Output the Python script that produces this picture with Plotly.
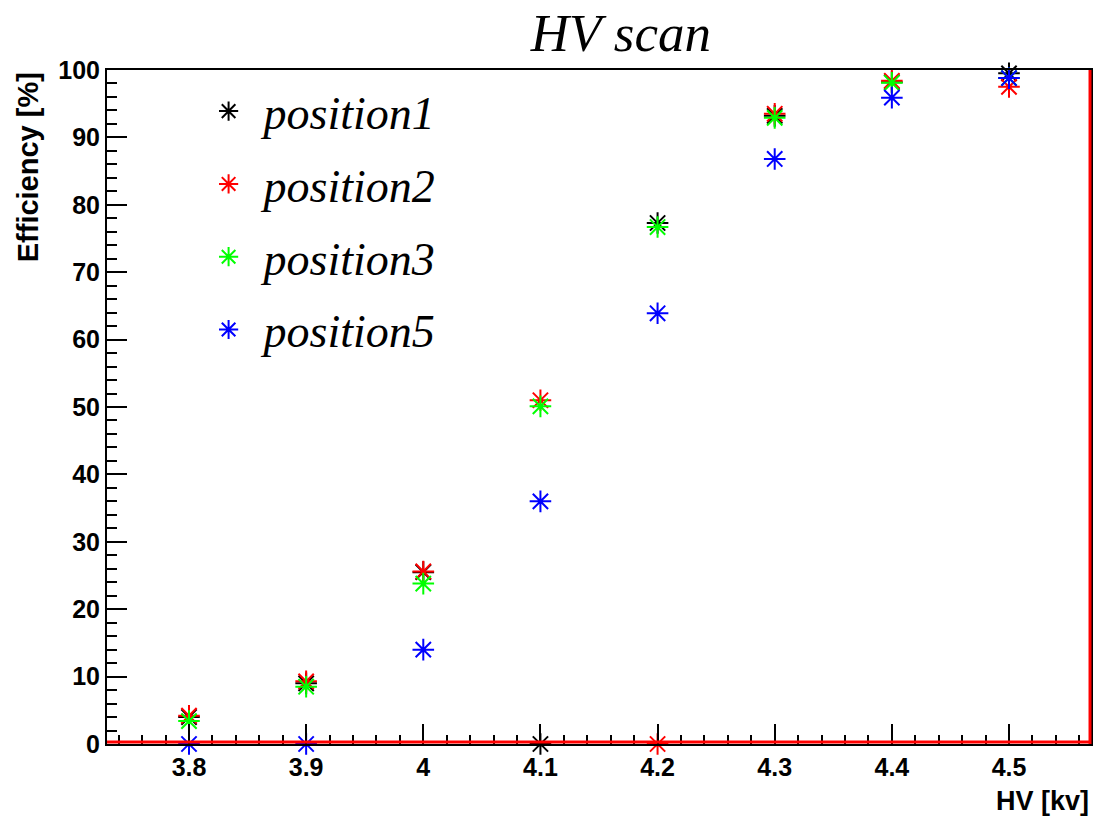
import plotly.graph_objects as go

hv = [3.8, 3.9, 4.0, 4.1, 4.2, 4.3, 4.4, 4.5]
pos1 = [4.0, 9.0, 25.5, 0.0, 77.3, 93.2, 98.2, 99.5]
pos2 = [4.2, 9.3, 25.6, 51.0, 0.0, 93.5, 98.4, 97.5]
pos3 = [3.4, 8.5, 23.8, 50.1, 76.7, 92.9, 98.1, 98.8]
pos5 = [0.0, 0.0, 14.0, 36.0, 63.9, 86.8, 95.9, 98.8]

series = [
    ("position1", pos1, "#000000"),
    ("position2", pos2, "#ff0000"),
    ("position3", pos3, "#00ff00"),
    ("position5", pos5, "#0000ff"),
]

x_ticks = [3.8, 3.9, 4.0, 4.1, 4.2, 4.3, 4.4, 4.5]
x_ticklabels = ["3.8", "3.9", "4", "4.1", "4.2", "4.3", "4.4", "4.5"]
y_ticks = [0, 10, 20, 30, 40, 50, 60, 70, 80, 90, 100]

fig = go.Figure()
for name, vals, col in series:
    fig.add_trace(go.Scatter(
        x=hv, y=vals, mode="markers", name=name, legendgroup=name,
        cliponaxis=False,
        marker=dict(symbol="asterisk-open", size=18, color=col,
                    line=dict(color=col, width=2)),
    ))

bold = dict(family="Liberation Sans", size=25, color="black", weight="bold")

fig.update_layout(
    width=1097, height=818,
    paper_bgcolor="white", plot_bgcolor="white",
    margin=dict(l=107, r=4, t=70, b=74),
    title=dict(text="<i>HV scan</i>", x=0.566, xanchor="center", y=0.96, yanchor="middle",
               font=dict(family="Liberation Serif", size=53, color="black")),
    showlegend=True,
    legend=dict(x=0.088, y=0.993, xanchor="left", yanchor="top",
                bgcolor="rgba(0,0,0,0)", borderwidth=0,
                tracegroupgap=10, itemwidth=60,
                font=dict(family="Liberation Serif", size=46, color="black", style="italic")),
    xaxis=dict(range=[3.73, 4.57], tickvals=x_ticks, ticktext=x_ticklabels,
               ticks="inside", ticklen=20, tickwidth=2, tickcolor="black",
               minor=dict(ticks="inside", ticklen=9, tickwidth=2, tickcolor="black", dtick=0.02, showgrid=False),
               showgrid=False, zeroline=False, showline=True, linecolor="black", linewidth=2, mirror=True,
               tickfont=bold),
    yaxis=dict(range=[0, 100], tickvals=y_ticks,
               ticks="inside", ticklen=20, tickwidth=2, tickcolor="black",
               minor=dict(ticks="inside", ticklen=10, tickwidth=2, tickcolor="black", dtick=2, showgrid=False),
               showgrid=False, zeroline=False, showline=True, linecolor="black", linewidth=2, mirror=True,
               tickfont=bold),
    annotations=[
        dict(text="Efficiency [%]", textangle=-90, xref="paper", yref="paper",
             x=-0.080, y=1.0, xanchor="center", yanchor="top", showarrow=False,
             font=dict(family="Liberation Sans", size=29, color="black", weight="bold")),
        dict(text="HV [kv]", xref="paper", yref="paper",
             x=1.0, y=-0.0846, xanchor="right", yanchor="middle", showarrow=False,
             font=dict(family="Liberation Sans", size=27, color="black", weight="bold")),
    ],
    shapes=[
        dict(type="line", xref="paper", yref="paper", x0=0, x1=1, y0=0.003, y1=0.003,
             line=dict(color="#ff0000", width=3)),
        dict(type="line", xref="paper", yref="paper", x0=0.999, x1=0.999, y0=0, y1=1,
             line=dict(color="#ff0000", width=3)),
    ],
)

fig.write_html("out.html", config={"displayModeBar": False},
               post_script="document.body.style.margin='0';document.body.style.padding='0';document.body.style.overflow='hidden';")
